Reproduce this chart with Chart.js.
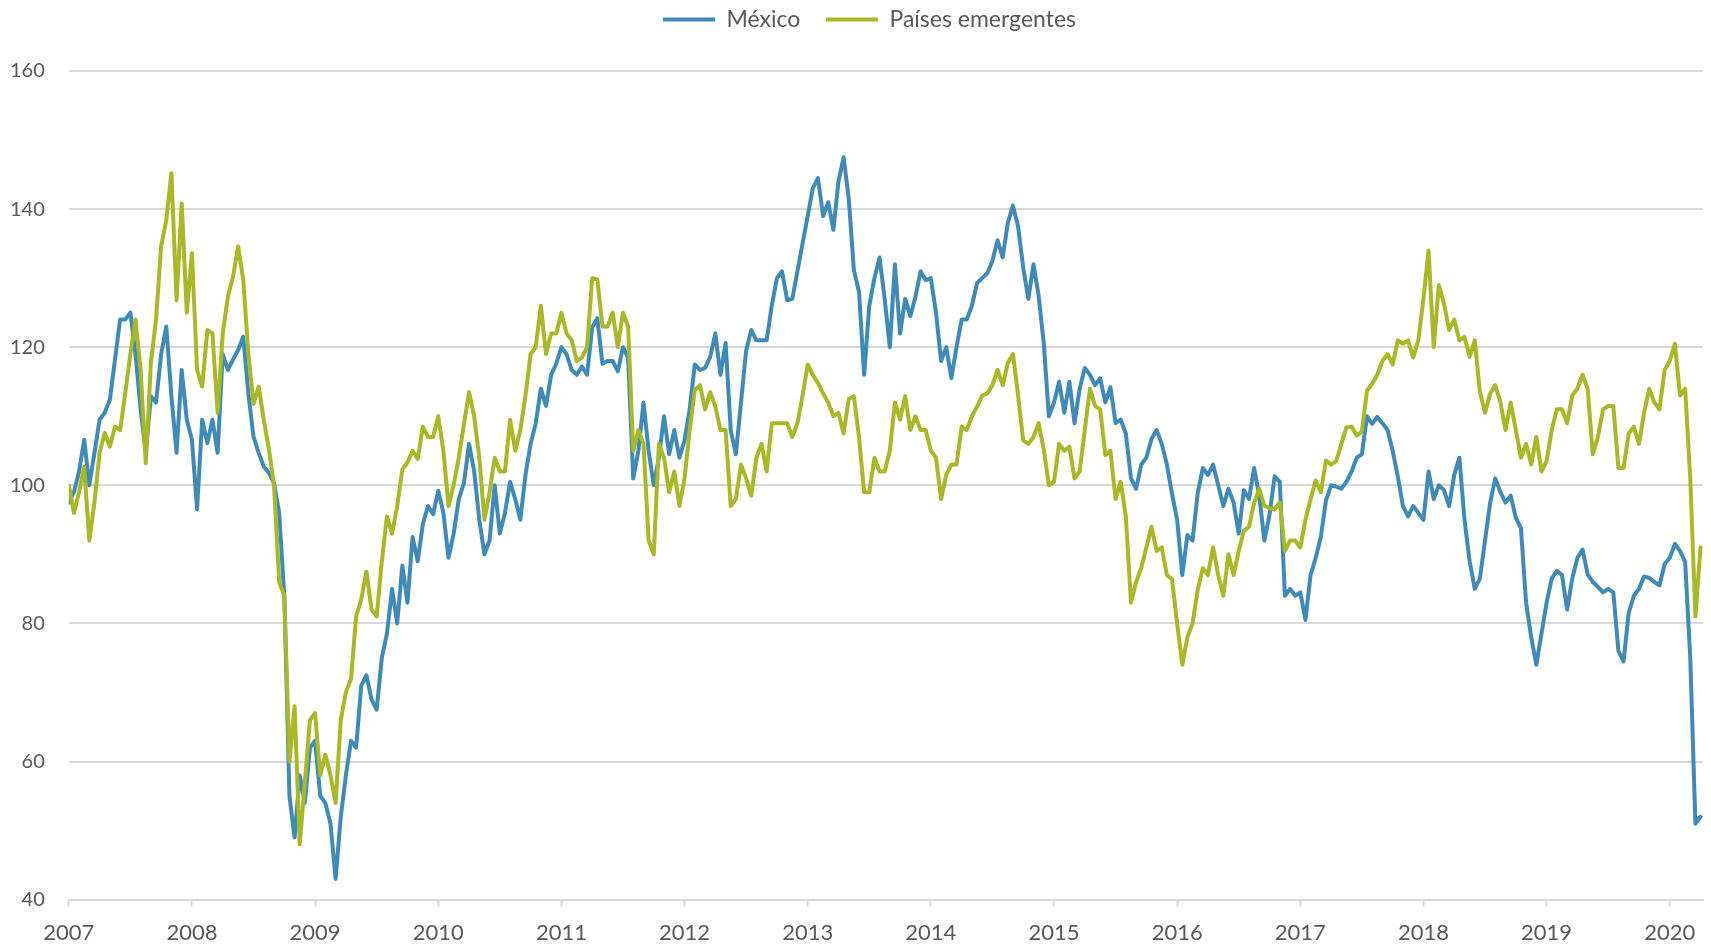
<!DOCTYPE html>
<html>
<head>
<meta charset="utf-8">
<script src="https://cdn.jsdelivr.net/npm/chart.js@4.4.1/dist/chart.umd.min.js"></script>
<style>
html,body{margin:0;padding:0;background:#ffffff;}
#wrap{width:1711px;height:946px;}
</style>
</head>
<body>
<div id="wrap"><canvas id="c" width="1711" height="946"></canvas></div>
<script>
// Series names
const seriesNames = ['México', 'Países emergentes'];
// Tick labels
const yearTicks = [2007, 2008, 2009, 2010, 2011, 2012, 2013, 2014, 2015, 2016, 2017, 2018, 2019, 2020];
const valueTicks = [40, 60, 80, 100, 120, 140, 160];
// Observations: one value every half month starting January 2007
const startYear = 2007;
const obsPerYear = 24;

const mexico = [
  97.5, 99, 102, 106.6, 100, 104.7, 109.5, 110.5, 112.4, 118.2,
  124, 124, 125, 119, 111, 104.7, 112.9, 112, 119, 123,
  112.9, 104.7, 116.7, 109.5, 106.6, 96.5, 109.5, 106.1, 109.5, 104.7,
  119, 116.7, 118.2, 119.6, 121.5, 113.3, 107, 104.7, 102.7, 101.8,
  100.3, 96, 84, 55, 49, 58, 54, 62, 63, 55,
  54, 51, 43, 52, 58, 63, 62, 71, 72.5, 69,
  67.5, 75, 78.5, 85, 80, 88.4, 83, 92.5, 89, 94.4,
  97, 95.8, 99.2, 96, 89.5, 93, 98, 100.3, 106, 102,
  95, 90, 92, 100, 93, 96, 100.5, 98, 95, 101.5,
  106, 109, 114, 111.5, 116, 117.6, 120, 119, 116.7, 116,
  117.2, 116, 122.9, 124.2, 117.6, 118, 118, 116.5, 120, 118.5,
  101, 105, 112, 105, 100, 104, 110, 104.5, 108, 104,
  106.5, 111, 117.5, 116.7, 117, 118.6, 122, 116, 120.6, 108,
  104.5, 112, 119.5, 122.5, 121, 121, 121, 126, 130, 131,
  126.8, 127, 131, 135, 139, 143, 144.5, 139, 141, 137,
  144, 147.5, 141.5, 131.2, 128, 116, 126, 130, 133, 127,
  120, 132, 122, 127, 124.5, 127.3, 131, 129.7, 130, 125,
  118, 120, 115.5, 120, 124, 124, 126, 129.3, 130, 130.7,
  132.5, 135.5, 133, 138, 140.5, 137.5, 131.5, 127, 132, 127.5,
  120.6, 110, 112, 115, 110.5, 115, 109, 114, 117, 116,
  114.5, 115.5, 112, 114.2, 109, 109.5, 107.5, 101, 99.5, 103,
  104, 106.7, 108, 106, 103, 98.8, 95, 87, 92.8, 92,
  98.8, 102.5, 101.5, 103, 100, 97, 99.5, 97.5, 93, 99.3,
  98, 102.5, 98.5, 92, 95.7, 101.3, 100.5, 84, 85, 84,
  84.5, 80.5, 87, 89.5, 92.5, 97.8, 100, 99.8, 99.5, 100.5,
  102, 104, 104.5, 110, 108.9, 109.9, 109, 108, 105, 101.3,
  97, 95.5, 97, 96, 95, 102, 98, 100, 99.3, 97,
  101.5, 104, 95, 89, 85, 86.5, 92, 97.5, 101, 99,
  97.5, 98.5, 95.3, 93.8, 83, 78, 74, 78.5, 83, 86.5,
  87.6, 87, 82, 86.5, 89.5, 90.7, 87.1, 86, 85.3, 84.5,
  85, 84.5, 76, 74.5, 81.5, 84, 85, 86.8, 86.6, 86,
  85.5, 88.6, 89.5, 91.5, 90.5, 88.9, 75, 51, 52
];

const emergentes = [
  100, 96, 99, 102.7, 92, 97.5, 104.7, 107.6, 105.6, 108.5,
  108, 113.3, 119, 124, 116.7, 103.2, 117.7, 124, 134.6, 138.4,
  145.2, 126.8, 140.8, 125, 133.6, 116.7, 114.3, 122.5, 122, 110.5,
  122, 127.3, 130.2, 134.6, 129.7, 119, 111.8, 114.3, 109.5, 105.2,
  100, 86, 84, 60, 68, 48, 57, 66, 67, 58,
  61, 58, 54, 66, 70, 72, 81, 83.5, 87.5, 82,
  81, 89, 95.5, 93, 97, 102.3, 103.3, 105, 103.8, 108.5,
  107, 107, 110, 105, 97, 100, 104, 108.8, 113.5, 110,
  104, 95, 99, 104, 102, 102, 109.5, 105, 108, 113,
  119, 120, 126, 119, 122, 122, 125, 122, 121, 118,
  118.5, 120, 130, 129.8, 123, 123, 125, 120, 125, 123,
  105, 108, 106, 92, 90, 106, 104, 99, 102, 97,
  101, 108, 113.8, 114.5, 111, 113.5, 111.4, 108, 108, 97,
  98, 103, 101, 98.5, 104, 106, 102, 109, 109, 109,
  109, 107, 109, 113, 117.5, 116, 114.8, 113.3, 112, 110,
  110.5, 107.5, 112.5, 112.9, 107, 99, 99, 104, 102, 102,
  105, 112, 109.5, 112.9, 108, 110, 108, 108, 105, 104,
  98, 101.5, 103, 103, 108.5, 108, 110, 111.4, 113, 113.3,
  114.5, 116.7, 114.5, 117.7, 119, 113, 106.5, 106, 107, 109,
  105.2, 100, 100.5, 106, 105, 105.6, 101, 102, 108, 114,
  111.5, 111, 104.4, 105, 98, 100.5, 95.5, 83, 86, 88,
  91, 94, 90.5, 91, 87, 86.4, 80, 74, 78, 80,
  84.8, 88, 87, 91, 87, 84, 90, 87, 90.5, 93.4,
  94, 97.4, 99.5, 97, 96.7, 96.5, 97.5, 90.5, 92, 92,
  91, 95, 98, 100.7, 99, 103.6, 103, 103.5, 106, 108.4,
  108.5, 107.2, 107.8, 113.7, 114.7, 116, 118, 119, 117.5, 121,
  120.5, 121, 118.5, 121, 127, 134, 120, 129, 126.3, 122.5,
  124, 121, 121.5, 118.6, 121, 113.5, 110.5, 113.3, 114.5, 112,
  108, 112, 108, 104, 106, 103, 107, 102, 103.5, 108,
  111, 111, 109, 113, 114, 116, 114, 104.5, 107, 111,
  111.5, 111.5, 102.5, 102.5, 107.5, 108.5, 106, 110.5, 114, 112,
  111, 116.7, 118, 120.5, 113, 114, 101, 81, 91
];

const dates = mexico.map((_, i) => startYear + i / obsPerYear);
const toPoints = arr => arr.map((v, i) => ({ x: dates[i], y: v }));

const BLUE = '#408AB7';
const GREEN = '#A8B826';
const TEXT = '#595959';
const GRID = '#D9D9D9';

const legendFitPlugin = {
  id: 'legendFit',
  beforeLayout(chart) {
    const lg = chart.legend;
    if (lg && !lg._fitPatched) {
      const orig = lg.fit;
      lg.fit = function () { orig.call(this); this.height = 71; };
      lg._fitPatched = true;
    }
  },
  afterLayout(chart) {
    const lg = chart.legend;
    if (lg) { lg.left += 25; lg.right += 25; }
  }
};

new Chart(document.getElementById('c'), {
  type: 'line',
  data: {
    datasets: [
      { label: seriesNames[0], data: toPoints(mexico), borderColor: BLUE, backgroundColor: BLUE, order: 1 },
      { label: seriesNames[1], data: toPoints(emergentes), borderColor: GREEN, backgroundColor: GREEN, order: 0 }
    ]
  },
  options: {
    responsive: false,
    devicePixelRatio: 1,
    animation: false,
    layout: { padding: { left: -14, right: 8, top: 0, bottom: -13 } },
    elements: {
      point: { radius: 0, hoverRadius: 0 },
      line: { borderWidth: 4, tension: 0, borderJoinStyle: 'round', borderCapStyle: 'round' }
    },
    plugins: {
      tooltip: { enabled: false },
      legend: {
        position: 'top',
        align: 'center',
        labels: {
          boxWidth: 52,
          boxHeight: 4,
          padding: 8,
          color: TEXT,
          font: { family: 'Lato', size: 23 },
          generateLabels(chart) {
            const items = Chart.defaults.plugins.legend.labels.generateLabels(chart);
            items.sort((a, b) => a.datasetIndex - b.datasetIndex);
            items.forEach((it, i) => {
              it.lineWidth = 0;
              if (i < items.length - 1) it.text = it.text + '   ';
            });
            return items;
          }
        }
      }
    },
    scales: {
      x: {
        type: 'linear',
        min: 2007,
        max: 2020.27,
        afterBuildTicks(scale) { scale.ticks = yearTicks.map(v => ({ value: v })); },
        ticks: {
          autoSkip: false,
          maxRotation: 0,
          includeBounds: false,
          padding: 13,
          color: TEXT,
          font: { family: 'Lato', size: 22 },
          callback: v => String(v)
        },
        grid: { drawOnChartArea: false, drawTicks: true, tickLength: 7, tickColor: GRID, tickWidth: 2 },
        border: { display: true, color: GRID, width: 2 }
      },
      y: {
        min: 40,
        max: 160,
        afterBuildTicks(scale) { scale.ticks = valueTicks.map(v => ({ value: v })); },
        ticks: {
          padding: 24,
          color: TEXT,
          font: { family: 'Lato', size: 20 },
          callback: v => String(v)
        },
        grid: { color: GRID, lineWidth: 2, drawTicks: false },
        border: { display: false }
      }
    }
  },
  plugins: [legendFitPlugin]
});
</script>
</body>
</html>
